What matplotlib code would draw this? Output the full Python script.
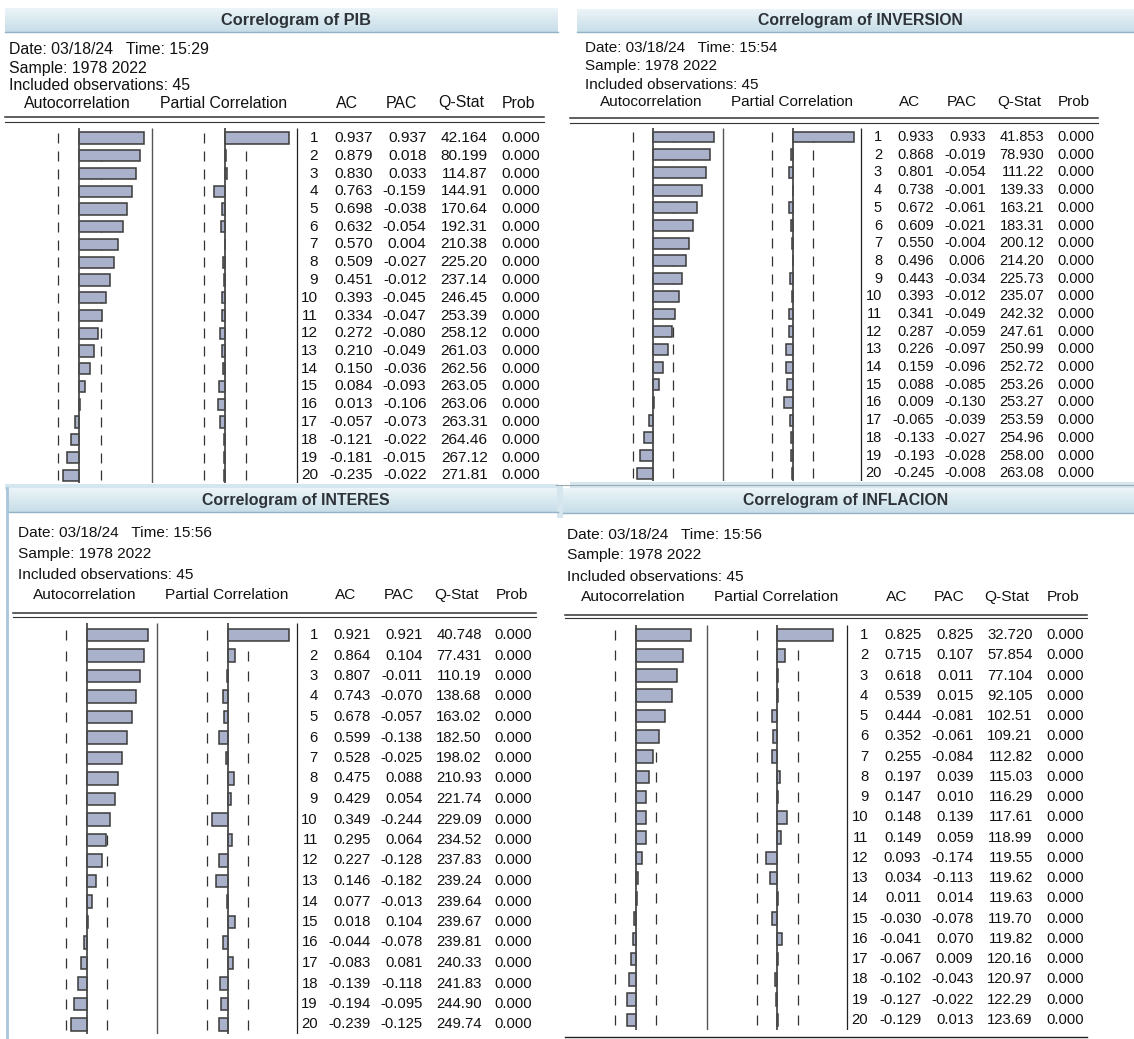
import numpy as np
import matplotlib
matplotlib.use("Agg")
import matplotlib.pyplot as plt

plt.rcParams['font.family'] = ['Liberation Sans', 'DejaVu Sans']

# ---------------- data ----------------
lags = list(range(1, 21))

pib_ac = [0.937, 0.879, 0.830, 0.763, 0.698, 0.632, 0.570, 0.509, 0.451, 0.393,
          0.334, 0.272, 0.210, 0.150, 0.084, 0.013, -0.057, -0.121, -0.181, -0.235]
pib_pac = [0.937, 0.018, 0.033, -0.159, -0.038, -0.054, 0.004, -0.027, -0.012, -0.045,
           -0.047, -0.080, -0.049, -0.036, -0.093, -0.106, -0.073, -0.022, -0.015, -0.022]
pib_q = ["42.164", "80.199", "114.87", "144.91", "170.64", "192.31", "210.38", "225.20", "237.14", "246.45",
         "253.39", "258.12", "261.03", "262.56", "263.05", "263.06", "263.31", "264.46", "267.12", "271.81"]

inv_ac = [0.933, 0.868, 0.801, 0.738, 0.672, 0.609, 0.550, 0.496, 0.443, 0.393,
          0.341, 0.287, 0.226, 0.159, 0.088, 0.009, -0.065, -0.133, -0.193, -0.245]
inv_pac = [0.933, -0.019, -0.054, -0.001, -0.061, -0.021, -0.004, 0.006, -0.034, -0.012,
           -0.049, -0.059, -0.097, -0.096, -0.085, -0.130, -0.039, -0.027, -0.028, -0.008]
inv_q = ["41.853", "78.930", "111.22", "139.33", "163.21", "183.31", "200.12", "214.20", "225.73", "235.07",
         "242.32", "247.61", "250.99", "252.72", "253.26", "253.27", "253.59", "254.96", "258.00", "263.08"]

int_ac = [0.921, 0.864, 0.807, 0.743, 0.678, 0.599, 0.528, 0.475, 0.429, 0.349,
          0.295, 0.227, 0.146, 0.077, 0.018, -0.044, -0.083, -0.139, -0.194, -0.239]
int_pac = [0.921, 0.104, -0.011, -0.070, -0.057, -0.138, -0.025, 0.088, 0.054, -0.244,
           0.064, -0.128, -0.182, -0.013, 0.104, -0.078, 0.081, -0.118, -0.095, -0.125]
int_q = ["40.748", "77.431", "110.19", "138.68", "163.02", "182.50", "198.02", "210.93", "221.74", "229.09",
         "234.52", "237.83", "239.24", "239.64", "239.67", "239.81", "240.33", "241.83", "244.90", "249.74"]

inf_ac = [0.825, 0.715, 0.618, 0.539, 0.444, 0.352, 0.255, 0.197, 0.147, 0.148,
          0.149, 0.093, 0.034, 0.011, -0.030, -0.041, -0.067, -0.102, -0.127, -0.129]
inf_pac = [0.825, 0.107, 0.011, 0.015, -0.081, -0.061, -0.084, 0.039, 0.010, 0.139,
           0.059, -0.174, -0.113, 0.014, -0.078, 0.070, 0.009, -0.043, -0.022, 0.013]
inf_q = ["32.720", "57.854", "77.104", "92.105", "102.51", "109.21", "112.82", "115.03", "116.29", "117.61",
         "118.99", "119.55", "119.62", "119.63", "119.70", "119.82", "120.16", "120.97", "122.29", "123.69"]

prob_vals = ["0.000"] * 20
conf_band = 0.31

headers = ["Autocorrelation", "Partial Correlation", "AC", "PAC", "Q-Stat", "Prob"]
info_lines = ["Sample: 1978 2022", "Included observations: 45"]

# ---------------- layout ----------------
W, H = 1134, 1039
fig = plt.figure(figsize=(W / 100, H / 100), dpi=100)
fig.patch.set_facecolor('white')
bg = fig.add_axes([0, 0, 1, 1])
bg.axis('off')

BAR_FC = '#AAB1CB'
BAR_EC = '#3a3a3a'
TXT = '#111111'
PXU = 64.0   # base pixels per correlation unit


def px_axes(x0, y0, x1, y1):
    ax = fig.add_axes([x0 / W, 1 - y1 / H, (x1 - x0) / W, (y1 - y0) / H])
    ax.axis('off')
    return ax


panels = [
    dict(name="PIB", time="15:29", ac=pib_ac, pac=pib_pac, q=pib_q, zx=79.3, s=1.0714,
         tb=(5, 558, 8, 32, 296), ty=(50, 68, 86, 103), dbl=(117, 122, 5, 544),
         row1=138, dy=17.75, ltop=128, lbot=483),
    dict(name="INVERSION", time="15:54", ac=inv_ac, pac=inv_pac, q=inv_q, zx=653, s=1.027,
         tb=(577, 1134, 9, 32, 860), ty=(48, 66, 85, 102), dbl=(118, 123, 570, 1098),
         row1=137, dy=17.7, ltop=128, lbot=481),
    dict(name="INTERES", time="15:56", ac=int_ac, pac=int_pac, q=int_q, zx=86.8, s=1.0365,
         tb=(8, 558, 488, 512, 296), ty=(533, 554, 575, 595), dbl=(613, 617, 13, 536),
         row1=635, dy=20.5, ltop=623, lbot=1034),
    dict(name="INFLACION", time="15:56", ac=inf_ac, pac=inf_pac, q=inf_q, zx=635.8, s=1.0419,
         tb=(563, 1134, 488, 513, 846), ty=(535, 555, 577, 597), dbl=(615, 618, 565, 1087),
         row1=635, dy=20.26, ltop=625, lbot=1030),
]

# light strips under top panels
bg.fill_between([5, 558], 484, 490, color='#D5E6EF', lw=0)
bg.fill_between([570, 1134], 482, 488, color='#D5E6EF', lw=0)
bg.plot([556, 1134], [485, 485], color='#9aa8b0', lw=0.8)

grad = np.linspace(0, 1, 40)[:, None]
top_c = np.array([0.925, 0.960, 0.975])
bot_c = np.array([0.780, 0.868, 0.910])
grad_img = (top_c[None, None, :] * (1 - grad[:, :, None]) + bot_c[None, None, :] * grad[:, :, None])

for p in panels:
    zx, s = p['zx'], p['s']
    fs_tab = 10.3 * s
    fs_info = 10.7 * s
    X = lambda rel: zx + rel * s

    # title bar
    x0, x1, y0, y1, cx = p['tb']
    bg.imshow(grad_img, extent=(x0, x1, y1, y0), origin='upper', aspect='auto', zorder=1)
    bg.plot([x0, x1], [y1, y1], color='#93B2C4', lw=1.0, zorder=2)
    bg.text(cx, (y0 + y1) / 2 + 0.5, f"Correlogram of {p['name']}", ha='center', va='center',
            fontsize=11 * s, fontweight='bold', color='#2d3338', zorder=3)

    # info text
    ty = p['ty']
    bg.text(X(-66), ty[0], f"Date: 03/18/24   Time: {p['time']}", ha='left', va='center',
            fontsize=fs_info, color=TXT)
    bg.text(X(-66), ty[1], info_lines[0], ha='left', va='center', fontsize=fs_info, color=TXT)
    bg.text(X(-66), ty[2], info_lines[1], ha='left', va='center', fontsize=fs_info, color=TXT)
    for h, rel in zip(headers, [-2, 135, 250, 301, 356.5, 410]):
        bg.text(X(rel), ty[3], h, ha='center', va='center', fontsize=fs_info, color=TXT)

    # double rule
    d1, d2, dx0, dx1 = p['dbl']
    bg.plot([dx0, dx1], [d1, d1], color='#333333', lw=1.1)
    bg.plot([dx0, dx1], [d2, d2], color='#333333', lw=0.8)

    # row y-range in lag units
    row1, dy, ltop, lbot = p['row1'], p['dy'], p['ltop'], p['lbot']
    lag_top = 1 - (row1 - ltop) / dy
    lag_bot = 1 + (lbot - row1) / dy

    # AC bars
    ax_ac = px_axes(X(-72), ltop, X(68), lbot)
    ax_ac.set_xlim(-72 / PXU, 68 / PXU)
    ax_ac.set_ylim(lag_bot, lag_top)
    for sgn in (-1, 1):
        ax_ac.plot([sgn * conf_band] * len(lags), lags, ls='none', marker='|', ms=7,
                   mew=0.9, color='#333333', zorder=1)
    ax_ac.barh(lags, p['ac'], height=0.62, left=0, color=BAR_FC, edgecolor=BAR_EC,
               linewidth=1.1, zorder=2)
    ax_ac.axvline(0, color='#4a4a4a', lw=1.3, zorder=3)

    # PAC bars
    ax_pac = px_axes(X(68), ltop, X(203), lbot)
    ax_pac.set_xlim((68 - 136) / PXU, (203 - 136) / PXU)
    ax_pac.set_ylim(lag_bot, lag_top)
    for sgn in (-1, 1):
        ax_pac.plot([sgn * conf_band] * len(lags), lags, ls='none', marker='|', ms=7,
                    mew=0.9, color='#333333', zorder=1)
    ax_pac.barh(lags, p['pac'], height=0.62, left=0, color=BAR_FC, edgecolor=BAR_EC,
                linewidth=1.1, zorder=2)
    ax_pac.axvline(0, color='#4a4a4a', lw=1.3, zorder=3)

    # table
    ax_t = px_axes(X(-74), ltop, X(440), lbot)
    ax_t.set_xlim(-74, 440)
    ax_t.set_ylim(lag_bot, lag_top)
    ax_t.vlines([68], lag_bot, lag_top, color='#555555', lw=1.0)
    ax_t.vlines([203], lag_bot, lag_top, color='#222222', lw=0.9)
    for lag, a, pa, qv, pr in zip(lags, p['ac'], p['pac'], p['q'], prob_vals):
        ax_t.text(223, lag, f"{lag}", ha='right', va='center', fontsize=fs_tab, color=TXT)
        ax_t.text(274, lag, f"{a:.3f}", ha='right', va='center', fontsize=fs_tab, color=TXT)
        ax_t.text(324, lag, f"{pa:.3f}", ha='right', va='center', fontsize=fs_tab, color=TXT)
        ax_t.text(381, lag, qv, ha='right', va='center', fontsize=fs_tab, color=TXT)
        ax_t.text(430, lag, pr, ha='right', va='center', fontsize=fs_tab, color=TXT)

# extra frame decorations
bg.plot([6.5, 6.5], [488, 1039], color='#A8C5D9', lw=2.0)
bg.plot([565, 1087], [1037, 1037], color='#222222', lw=1.0)
bg.fill_between([557, 563], 486, 518, color='#D5E6EF', lw=0)

bg.set_xlim(0, W)
bg.set_ylim(H, 0)

fig.savefig("out.png", dpi=100, facecolor='white')
